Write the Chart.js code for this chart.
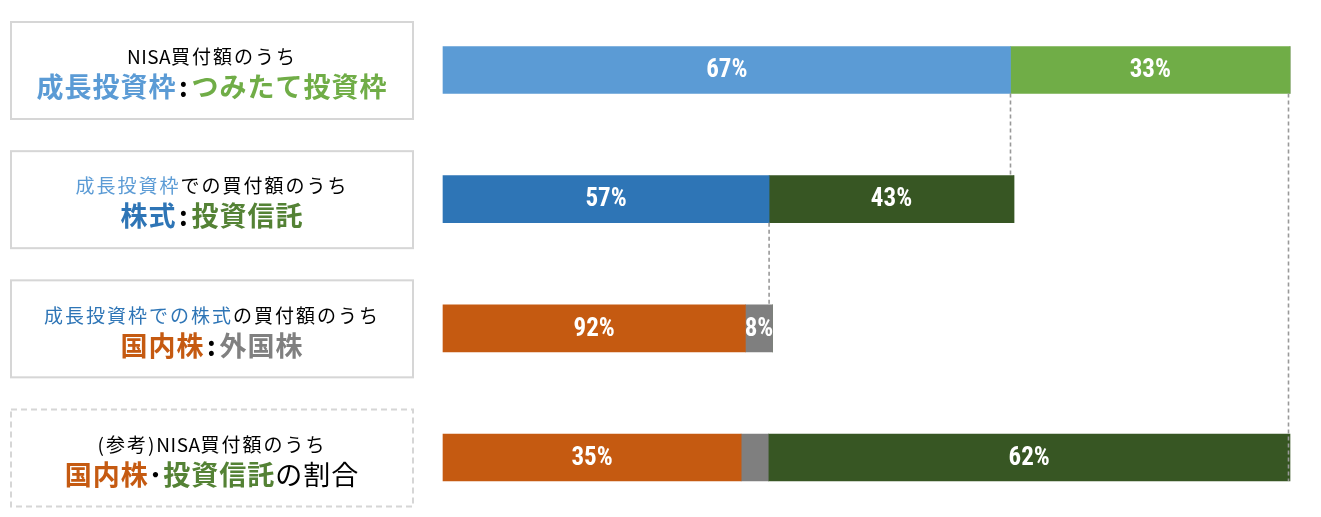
<!DOCTYPE html>
<html lang="ja">
<head>
<meta charset="utf-8">
<script src="https://cdn.jsdelivr.net/npm/chart.js@4.4.1/dist/chart.umd.min.js"></script>
<style>
  html, body { margin: 0; background: #fff; }
  #wrap { width: 1321px; height: 517px; position: relative; }
</style>
</head>
<body>
<div id="wrap"><canvas id="bars"></canvas></div>
<script>
const categories = ['成長投資枠:つみたて投資枠', '株式:投資信託', '国内株:外国株', '国内株・投資信託の割合'];

// bar lengths as share of total NISA purchases (%)
const seg1Values = [67, 38.5, 35.7, 35.2];
const seg2Values = [33, 28.9, 3.2, 3.2];
const seg3Values = [0, 0, 0, 61.6];

// labels printed on the bars
const seg1Labels = ['67%', '57%', '92%', '35%'];
const seg2Labels = ['33%', '43%', '8%', ''];
const seg3Labels = ['', '', '', '62%'];

const seg1Colors = ['#5B9BD5', '#2E75B6', '#C55A11', '#C55A11'];
const seg2Colors = ['#70AD47', '#375623', '#7F7F7F', '#7F7F7F'];
const seg3Colors = ['#375623', '#375623', '#375623', '#375623'];

// left hand boxes: [text, colour, weight, letter spacing]
const boxTitles = [
  [['NISA', '#000', null, '0.5px'], ['買付額のうち', '#000']],
  [['成長投資枠', '#5B9BD5'], ['での買付額のうち', '#000']],
  [['成長投資枠での株式', '#2E75B6'], ['の買付額のうち', '#000']],
  [['(参考)', '#000'], ['NISA', '#000', null, '0.5px'], ['買付額のうち', '#000']],
];
const boxHeads = [
  [['成長投資枠', '#5B9BD5'], ['\u200A:\u200A', '#000'], ['つみたて投資枠', '#70AD47']],
  [['株式', '#2E75B6'], ['\u200A:\u200A', '#000'], ['投資信託', '#548235']],
  [['国内株', '#C55A11'], ['\u200A:\u200A', '#000'], ['外国株', '#808080']],
  [['国内株', '#C55A11'], ['\uFF65', '#000'], ['投資信託', '#548235'], ['の割合', '#000', 'normal']],
];

function drawRuns(ctx, runs, cx, cy, size, weight, spacing) {
  ctx.textAlign = 'left';
  ctx.textBaseline = 'middle';
  const setFont = r => {
    ctx.font = `${r[2] || weight} ${size}px "Noto Sans CJK JP", sans-serif`;
    ctx.letterSpacing = r[3] || spacing;
  };
  let total = 0;
  runs.forEach(r => { setFont(r); total += ctx.measureText(r[0]).width; });
  let x = cx - total / 2;
  runs.forEach(r => {
    setFont(r);
    ctx.fillStyle = r[1];
    ctx.fillText(r[0], x, cy);
    x += ctx.measureText(r[0]).width;
  });
  ctx.letterSpacing = '0px';
}

const sidePanels = {
  id: 'sidePanels',
  afterDraw(chart) {
    const { ctx } = chart;
    const y = chart.scales.y;
    ctx.save();
    categories.forEach((c, i) => {
      const cy = y.getPixelForValue(i);
      ctx.lineWidth = 2;
      ctx.strokeStyle = '#D6D6D6';
      ctx.setLineDash(i === 3 ? [6, 4] : []);
      ctx.strokeRect(11, cy - 48, 402, 97);
      ctx.setLineDash([]);
      drawRuns(ctx, boxTitles[i], 212, cy - 13, 19, 'normal', '2px');
      drawRuns(ctx, boxHeads[i], 212, cy + 17, 27, 'bold', '1px');
    });
    ctx.restore();
  }
};

const connectors = {
  id: 'connectors',
  afterDatasetsDraw(chart) {
    const { ctx } = chart;
    const m1 = chart.getDatasetMeta(0).data;
    const m2 = chart.getDatasetMeta(1).data;
    const top = b => b.y - b.height / 2;
    const bottom = b => b.y + b.height / 2;
    const lines = [
      [m1[0].x, bottom(m1[0]), top(m1[1])],
      [m1[1].x, bottom(m1[1]), top(m1[2])],
      [m2[0].x - 1.5, bottom(m2[0]), bottom(m1[3])],
    ];
    ctx.save();
    ctx.strokeStyle = '#999999';
    ctx.lineWidth = 1.6;
    ctx.setLineDash([4, 3]);
    lines.forEach(([x, y0, y1]) => {
      ctx.beginPath();
      ctx.moveTo(x, y0);
      ctx.lineTo(x, y1);
      ctx.stroke();
    });
    ctx.restore();
  }
};

const barLabels = {
  id: 'barLabels',
  afterDatasetsDraw(chart) {
    const { ctx } = chart;
    ctx.save();
    ctx.font = 'bold 25px "Liberation Sans Narrow", "Roboto Condensed", Roboto, sans-serif';
    ctx.fillStyle = '#fff';
    ctx.textAlign = 'center';
    ctx.textBaseline = 'middle';
    chart.data.datasets.forEach((ds, d) => {
      chart.getDatasetMeta(d).data.forEach((bar, i) => {
        const t = ds.labelTexts[i];
        if (!t) return;
        ctx.fillText(t, (bar.x + bar.base) / 2, bar.y + 1);
      });
    });
    ctx.restore();
  }
};

const barConfig = {
  type: 'bar',
  data: {
    labels: categories,
    datasets: [
      { data: seg1Values, backgroundColor: seg1Colors, labelTexts: seg1Labels },
      { data: seg2Values, backgroundColor: seg2Colors, labelTexts: seg2Labels },
      { data: seg3Values, backgroundColor: seg3Colors, labelTexts: seg3Labels },
    ].map(ds => Object.assign(ds, { borderWidth: 0, barThickness: 47, clip: false })),
  },
  options: {
    indexAxis: 'y',
    responsive: true,
    maintainAspectRatio: false,
    animation: false,
    layout: { padding: { left: 443, right: 31, top: 70, bottom: 59.5 } },
    plugins: { legend: { display: false }, tooltip: { enabled: false } },
    scales: {
      x: { stacked: true, min: 0, max: 100, display: false },
      y: { stacked: true, offset: false, display: false },
    },
  },
  plugins: [sidePanels, connectors, barLabels],
};

const barsCtx = document.getElementById('bars');
window.myBar = new Chart(barsCtx, barConfig);
</script>
</body>
</html>
